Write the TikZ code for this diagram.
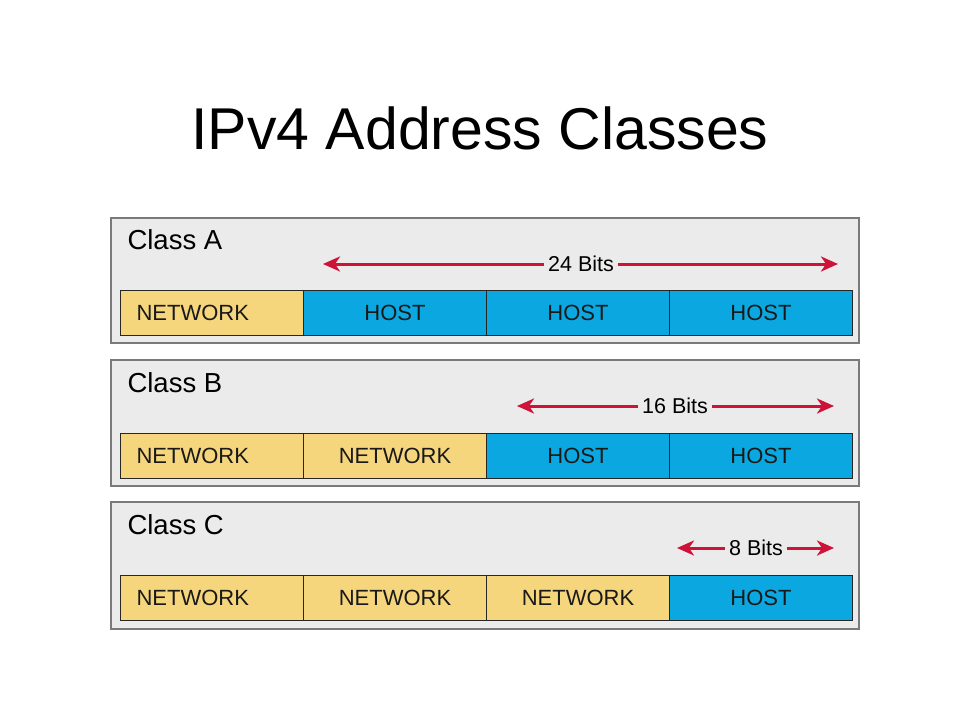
\documentclass[tikz,border=0pt]{standalone}
\usepackage{fontspec}
\setmainfont{Liberation Sans}
\usetikzlibrary{arrows.meta}
\definecolor{panelgray}{HTML}{EBEBEB}
\definecolor{panelline}{HTML}{7A7A7A}
\definecolor{netyellow}{HTML}{F5D67C}
\definecolor{hostblue}{HTML}{0BA7E0}
\definecolor{bitred}{HTML}{CF1237}

\begin{document}
\begin{tikzpicture}[x=1pt,y=-1pt,
  panel/.style={draw=panelline, fill=panelgray, line width=1.6pt, minimum width=748pt, anchor=north west, inner sep=0pt},
  classname/.style={anchor=base west, font=\fontsize{27.5}{27.5}\selectfont},
  cell/.style={draw=black!85, line width=1pt, minimum width=183pt, minimum height=45pt, anchor=north west, inner sep=0pt, text=black!90, font=\fontsize{22}{22}\selectfont},
  net/.style={cell, fill=netyellow},
  host/.style={cell, fill=hostblue},
  lead/.style={net, inner xsep=16pt, text width=151pt, align=left},
  bits/.style={inner sep=4pt, font=\fontsize{21.5}{21.5}\selectfont},
  bitarrow/.style={draw=bitred, line width=3pt, -{Stealth[length=17pt, width=15pt, inset=5pt]}}]
\useasboundingbox (0,0) rectangle (960,720);
\node[anchor=base, font=\fontsize{59}{59}\selectfont] (title) at (480,149) {IPv4 Address Classes};

\node[panel, minimum height=125pt] (panelA) at (110,217) {};
\node[classname] (nameA) at (124,249) {Class A};
\foreach \k/\t [count=\i from 0] in {lead/NETWORK,host/HOST,host/HOST,host/HOST}
  \node[\k] (a\i) at (120+183*\i,290) {\t};
\node[bits] (bitsA) at (581,264) {24 Bits};
\coordinate (aL) at (323,264);
\coordinate (aR) at (838,264);
\draw[bitarrow] (bitsA) -- (aL);
\draw[bitarrow] (bitsA) -- (aR);

\node[panel, minimum height=126pt] (panelB) at (110,359) {};
\node[classname] (nameB) at (124,392) {Class B};
\foreach \k/\t [count=\i from 0] in {lead/NETWORK,net/NETWORK,host/HOST,host/HOST}
  \node[\k] (b\i) at (120+183*\i,433) {\t};
\node[bits] (bitsB) at (675,406) {16 Bits};
\coordinate (bL) at (517,406);
\coordinate (bR) at (834,406);
\draw[bitarrow] (bitsB) -- (bL);
\draw[bitarrow] (bitsB) -- (bR);

\node[panel, minimum height=127pt] (panelC) at (110,501) {};
\node[classname] (nameC) at (124,534) {Class C};
\foreach \k/\t [count=\i from 0] in {lead/NETWORK,net/NETWORK,net/NETWORK,host/HOST}
  \node[\k] (c\i) at (120+183*\i,575) {\t};
\node[bits] (bitsC) at (756,548) {8 Bits};
\coordinate (cL) at (677,548);
\coordinate (cR) at (834,548);
\draw[bitarrow] (bitsC) -- (cL);
\draw[bitarrow] (bitsC) -- (cR);
\end{tikzpicture}
\end{document}
